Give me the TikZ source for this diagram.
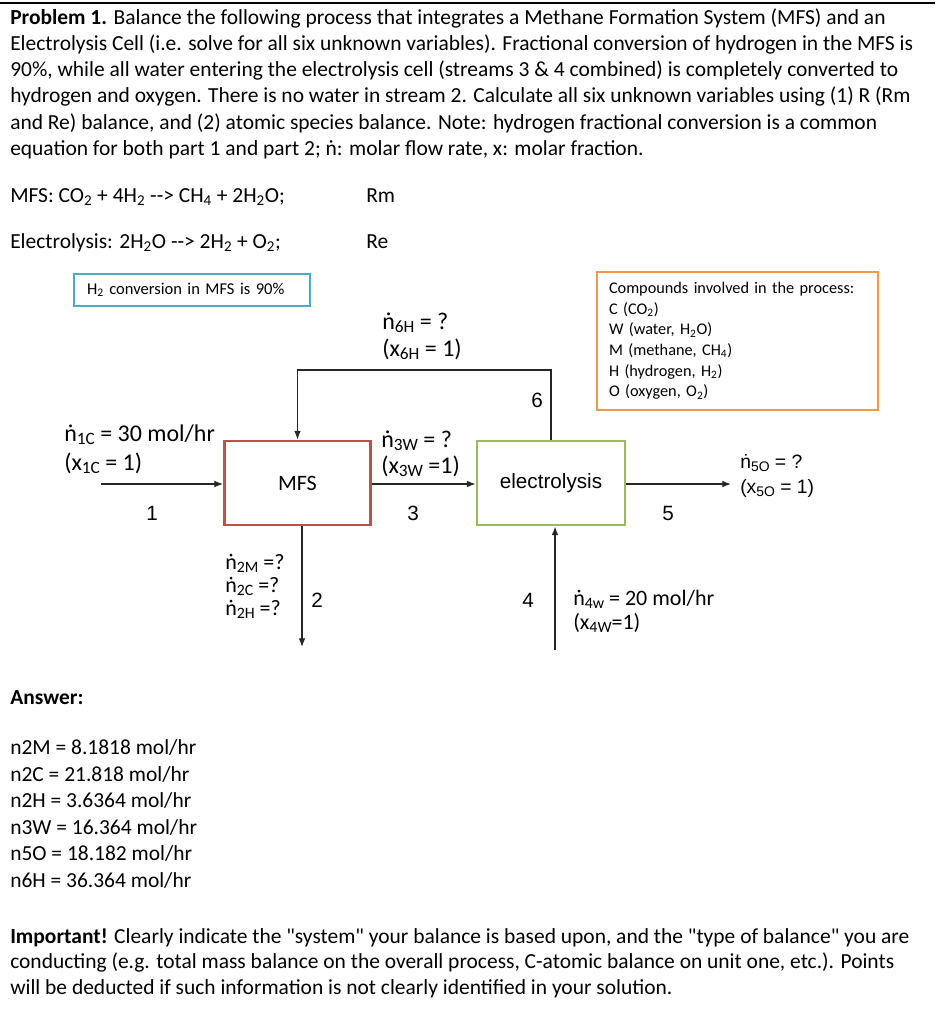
\documentclass[tikz,border=0pt]{standalone}
\usepackage{fontspec}
\setmainfont{Carlito}
\newfontfamily\arialfont{Liberation Sans}
\usepackage{xcolor}
\usepackage{graphicx}
\usetikzlibrary{calc, positioning, arrows.meta}

\definecolor{boxred}{HTML}{C0504D}
\definecolor{boxgreen}{HTML}{9BBB59}
\definecolor{boxblue}{HTML}{4BACC6}
\definecolor{boxorange}{HTML}{F79646}
\newcommand{\lowsub}[1]{\textsubscript{#1}}
\newcommand{\flowsub}[1]{\raisebox{-0.3ex}{\scalebox{0.72}{#1}}}

\begin{document}
\begin{tikzpicture}[x=0.75pt, y=-0.75pt, >={Latex[length=6.5pt, width=5pt]},
    txt/.style={anchor=base west, inner sep=0pt, font=\fontsize{16.1}{19}\selectfont},
    lbl/.style={anchor=base west, inner sep=0pt, font=\fontsize{18}{21}\selectfont},
    slbl/.style={anchor=base west, inner sep=0pt, font=\fontsize{16.5}{19}\selectfont},
    num/.style={inner sep=0pt, font=\arialfont\fontsize{15.5}{18}\selectfont},
    unit/.style={draw, line width=2.2pt, minimum height=63pt, font=\fontsize{16.5}{19}\selectfont},
    stream/.style={->, line width=0.9pt, black!85}]
    \useasboundingbox (0,0) rectangle (952,1024);

    % 1. Đề bài
    \draw[line width=0.8pt] (0,3) -- (935,3);
    \node[txt] (p1) at (10,25) {\textbf{Problem 1.} Balance the following process that integrates a Methane Formation System (MFS) and an};
    \node[txt] (p2) at (10,51) {Electrolysis Cell (i.e. solve for all six unknown variables). Fractional conversion of hydrogen in the MFS is};
    \node[txt] (p3) at (10,77) {90\%, while all water entering the electrolysis cell (streams 3 \& 4 combined) is completely converted to};
    \node[txt] (p4) at (10,103) {hydrogen and oxygen. There is no water in stream 2. Calculate all six unknown variables using (1) R (Rm};
    \node[txt] (p5) at (10,129) {and Re) balance, and (2) atomic species balance. Note: hydrogen fractional conversion is a common};
    \node[txt] (p6) at (10,155) {equation for both part 1 and part 2; ṅ: molar flow rate, x: molar fraction.};

    % 2. Phản ứng
    \node[txt] (eqm) at (10,202) {MFS: CO\lowsub{2} + 4H\lowsub{2} -{}-> CH\lowsub{4} + 2H\lowsub{2}O;};
    \node[txt] (rm) at (366,202) {Rm};
    \node[txt] (eqe) at (10,248) {Electrolysis: 2H\lowsub{2}O -{}-> 2H\lowsub{2} + O\lowsub{2};};
    \node[txt] (re) at (366,248) {Re};

    % 3. Ghi chú
    \node[draw=boxblue, line width=1.6pt, minimum width=177pt, minimum height=24pt,
          text width=157.5pt, inner xsep=9.75pt, align=left, font=\fontsize{12.4}{15}\selectfont]
          (conv) at (192,290) {H\lowsub{2} conversion in MFS is 90\%};
    \node[draw=boxorange, line width=1.8pt, minimum width=210.75pt, minimum height=103.5pt,
          text width=192.75pt, inner xsep=9pt, align=left, font=\fontsize{12.2}{15.5}\selectfont]
          (comp) at (737.5,341) {Compounds involved in the process:\\ C (CO\lowsub{2})\\ W (water, H\lowsub{2}O)\\
          M (methane, CH\lowsub{4})\\ H (hydrogen, H\lowsub{2})\\ O (oxygen, O\lowsub{2})};

    % 4. Các thiết bị
    \node[unit, draw=boxred, minimum width=109.5pt] (mfs) at (297.5,483) {MFS};
    \node[unit, draw=boxgreen, minimum width=111pt, font=\arialfont\fontsize{15.5}{18}\selectfont] (elec) at (551,483) {electrolysis};

    % 5. Các dòng
    \coordinate (in1) at (101,484);
    \coordinate (out5) at (731,484);
    \coordinate (top6) at (551,370);
    \coordinate (out2) at (302,647);
    \coordinate (in4) at (555,650);
    \draw[stream] (in1) -- (in1 -| mfs.west);
    \draw[stream] (mfs.east |- in1) -- (elec.west |- in1);
    \draw[stream] (elec.east |- in1) -- (out5);
    \draw[stream] (elec.north) -- (top6) -| (mfs.north);
    \draw[stream] (mfs.south -| out2) -- (out2);
    \draw[stream] (in4) -- (in4 |- elec.south);

    % 6. Nhãn các dòng
    \node[lbl] (n1a) at (64,441) {ṅ\flowsub{1C} = 30 mol/hr};
    \node[lbl] (n1b) at (64,470) {(x\flowsub{1C} = 1)};
    \node[num] (s1) at (152,513) {1};
    \node[lbl] (n3a) at (381,447) {ṅ\flowsub{3W} = ?};
    \node[lbl] (n3b) at (381,473) {(x\flowsub{3W} =1)};
    \node[num] (s3) at (413,513) {3};
    \node[txt, font=\arialfont\fontsize{14.5}{17}\selectfont] (n5a) at (740,468) {ṅ\flowsub{5O} = ?};
    \node[txt, font=\arialfont\fontsize{14.5}{17}\selectfont] (n5b) at (740,493) {(x\flowsub{5O} = 1)};
    \node[num] (s5) at (668,513) {5};
    \node[lbl] (n6a) at (382,329) {ṅ\flowsub{6H} = ?};
    \node[lbl] (n6b) at (382,356) {(x\flowsub{6H} = 1)};
    \node[num] (s6) at (537,400) {6};
    \node[slbl] (n2m) at (225,569) {ṅ\flowsub{2M} =?};
    \node[slbl] (n2c) at (225,592) {ṅ\flowsub{2C} =?};
    \node[slbl] (n2h) at (225,615) {ṅ\flowsub{2H} =?};
    \node[num] (s2) at (317,600) {2};
    \node[num] (s4) at (528,600) {4};
    \node[slbl] (n4a) at (573,605) {ṅ\flowsub{4w} = 20 mol/hr};
    \node[slbl] (n4b) at (573,629) {(x\flowsub{4W}=1)};

    % 7. Đáp số
    \node[txt] (ans) at (10,704) {\textbf{Answer:}};
    \node[txt] (a1) at (10,754) {n2M = 8.1818 mol/hr};
    \node[txt] (a2) at (10,781) {n2C = 21.818 mol/hr};
    \node[txt] (a3) at (10,807) {n2H = 3.6364 mol/hr};
    \node[txt] (a4) at (10,834) {n3W = 16.364 mol/hr};
    \node[txt] (a5) at (10,860) {n5O = 18.182 mol/hr};
    \node[txt] (a6) at (10,887) {n6H = 36.364 mol/hr};

    % 8. Lưu ý
    \node[txt] (i1) at (10,943) {\textbf{Important!} Clearly indicate the \textquotedbl system\textquotedbl{} your balance is based upon, and the \textquotedbl type of balance\textquotedbl{} you are};
    \node[txt] (i2) at (10,968) {conducting (e.g. total mass balance on the overall process, C-atomic balance on unit one, etc.). Points};
    \node[txt] (i3) at (10,994) {will be deducted if such information is not clearly identified in your solution.};
\end{tikzpicture}
\end{document}
